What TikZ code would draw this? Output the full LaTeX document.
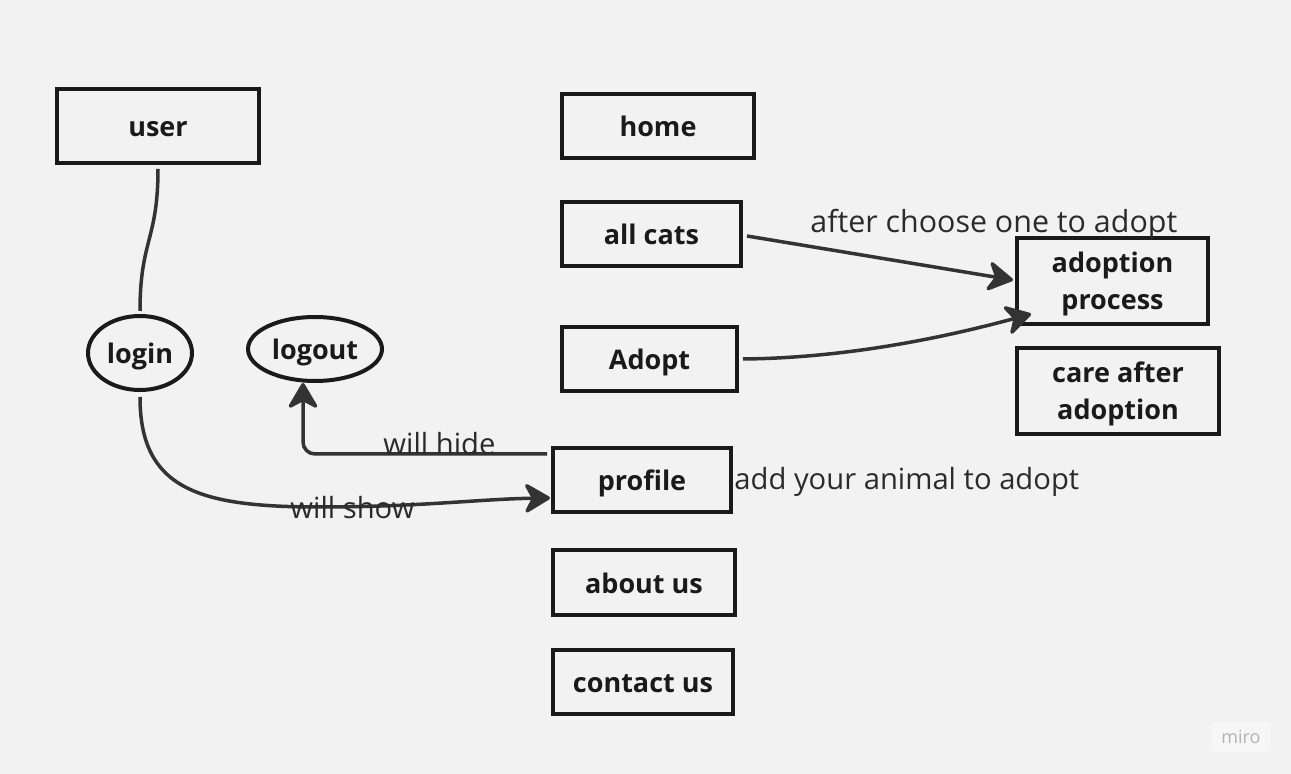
\documentclass[tikz,border=0pt]{standalone}
\usepackage{fontspec}
\setmainfont{Open Sans}
\usetikzlibrary{arrows.meta,shapes.geometric,calc}
\definecolor{paper}{HTML}{F2F2F2}
\definecolor{boxc}{HTML}{1A1A1A}
\definecolor{linec}{HTML}{333333}
\definecolor{notec}{HTML}{2B2B2B}
\definecolor{logoc}{HTML}{B2B2B2}
\definecolor{logobg}{HTML}{F6F6F6}
\begin{document}
\begin{tikzpicture}[x=0.5pt,y=-0.5pt,
  page/.style={rectangle,draw=boxc,line width=2pt,inner sep=0pt,align=center,
    font=\fontsize{13.5}{18.5}\selectfont\bfseries,text=boxc},
  oneline/.style={text height=12.5pt,text depth=1.5pt},
  twoline/.style={text depth=0pt},
  oval/.style={ellipse,draw=boxc,line width=2pt,inner sep=0pt,oneline,
    font=\fontsize{13.5}{18.5}\selectfont\bfseries,text=boxc},
  link/.style={draw=linec,line width=1.75pt},
  conn/.style={link,-{Stealth[length=14.5pt,width=17pt,inset=4.5pt,round]}},
  note/.style={font=\fontsize{14.6}{18}\selectfont,text=notec,inner sep=0pt}]
% canvas
\fill[paper] (0,0) rectangle (1291,774);
\useasboundingbox (0,0) rectangle (1291,774);
% user side
\node[page,oneline,minimum width=101pt,minimum height=37pt] (user) at (158,126) {user};
\node[oval,minimum width=52pt,minimum height=37pt] (login) at (140,353) {login};
\node[oval,minimum width=67pt,minimum height=32pt] (logout) at (315,349) {logout};
% pages
\node[page,oneline,minimum width=96pt,minimum height=32pt] (home) at (658,126) {home};
\node[page,oneline,minimum width=89.5pt,minimum height=32pt] (allcats) at (651.5,234) {all cats};
\node[page,oneline,minimum width=87.5pt,minimum height=32pt] (adopt) at (649.5,359) {Adopt};
\node[page,oneline,minimum width=89pt,minimum height=32pt] (profile) at (642,480) {profile};
\node[page,oneline,minimum width=91pt,minimum height=32.5pt] (aboutus) at (644,582.5) {about us};
\node[page,oneline,minimum width=90pt,minimum height=32pt] (contactus) at (643,682) {contact us};
% adoption boxes
\node[page,twoline,minimum width=95.5pt,minimum height=43pt] (process) at (1112.5,281) {adoption\\process};
\node[page,twoline,minimum width=101pt,minimum height=43pt] (care) at (1118,391) {care after\\adoption};
% connectors
\draw[link,shorten <=2pt,shorten >=1.5pt] (user.south) .. controls (158,240) and (140,240) .. (login.north);
\draw[conn,shorten <=2.5pt] (login.south) .. controls (140,490) and (200,507) .. (320,507)
  .. controls (420,507) and (480,499) .. ($(profile.west)+(-1,18)$);
\draw[conn,rounded corners=6pt] ($(profile.north west)+(-4,8)$) -| ($(logout.south)+(-12,0)$);
\draw[conn] ($(allcats.east)+(4,2)$) -- ($(process.west)+(-2,-1)$);
\draw[conn] ($(adopt.east)+(4,0)$) .. controls (850,358) and (950,336) .. ($(process.south west)+(16,-12)$);
% texts
\node[note,anchor=base west,font=\fontsize{15.2}{18}\selectfont] (choose) at (810,233) {after choose one to adopt};
\node[note,anchor=base west] (hide) at (383,455) {will hide};
\node[note,anchor=base west] (show) at (290,519) {will show};
\node[note,anchor=base west] (animal) at (734,490) {add your animal to adopt};
% logo
\node[fill=logobg,rounded corners=2pt,minimum width=29.5pt,minimum height=15pt,inner sep=0pt,
  text=logoc,font=\fontsize{9}{10}\selectfont] (logo) at (1241,737) {miro};
\end{tikzpicture}
\end{document}
